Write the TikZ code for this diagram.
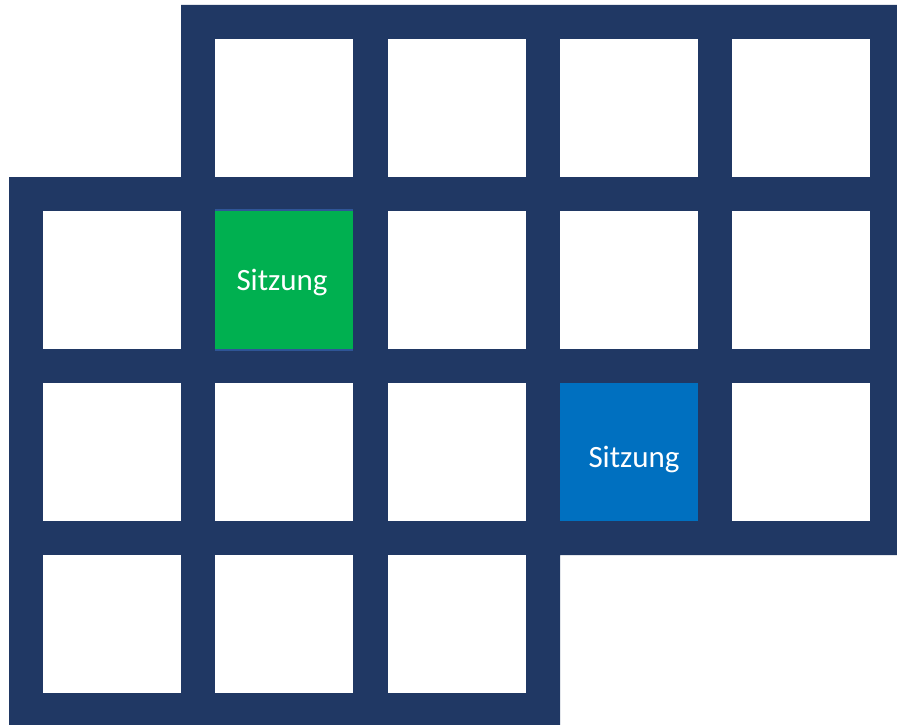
\documentclass[tikz,border=0pt]{standalone}
\usepackage{fontspec}
\setmainfont{Carlito}
\definecolor{frame}{HTML}{203864}
\definecolor{gruen}{HTML}{00B050}
\definecolor{blau}{HTML}{0070C0}
\definecolor{edge}{HTML}{2F5597}
\begin{document}
\begin{tikzpicture}[x=1pt,y=-1pt,
  cell/.style={fill=white,minimum width=138pt,minimum height=138pt,inner sep=0pt,draw=none},
  label/.style={text=white,font=\fontsize{31}{31}\selectfont,inner sep=0pt}]
\useasboundingbox (0,0) rectangle (897,725);
\fill[white] (0,0) rectangle (897,725);
% frame
\fill[frame] (181,5) -- (897,5) -- (897,555) -- (560,555) -- (560,725) -- (9,725) -- (9,177) -- (181,177) -- cycle;
% row 0
\node[cell] (c01) at (284,108) {};
\node[cell] (c02) at (457,108) {};
\node[cell] (c03) at (629,108) {};
\node[cell] (c04) at (801,108) {};
% row 1
\node[cell] (c10) at (112,280) {};
\node[cell,fill=gruen] (c11) at (284,280) {};
\node[cell] (c12) at (457,280) {};
\node[cell] (c13) at (629,280) {};
\node[cell] (c14) at (801,280) {};
% row 2
\node[cell] (c20) at (112,452) {};
\node[cell] (c21) at (284,452) {};
\node[cell] (c22) at (457,452) {};
\node[cell,fill=blau] (c23) at (629,452) {};
\node[cell] (c24) at (801,452) {};
% row 3
\node[cell] (c30) at (112,624) {};
\node[cell] (c31) at (284,624) {};
\node[cell] (c32) at (457,624) {};
% thin edges on green cell
\fill[edge] (c11.north west) rectangle ([yshift=2pt]c11.north east);
\fill[edge] ([yshift=-2pt]c11.south west) rectangle (c11.south east);
% labels
\node[label] (t1) at (282,282) {Sitzung};
\node[label] (t2) at (634,459) {Sitzung};
\end{tikzpicture}
\end{document}
